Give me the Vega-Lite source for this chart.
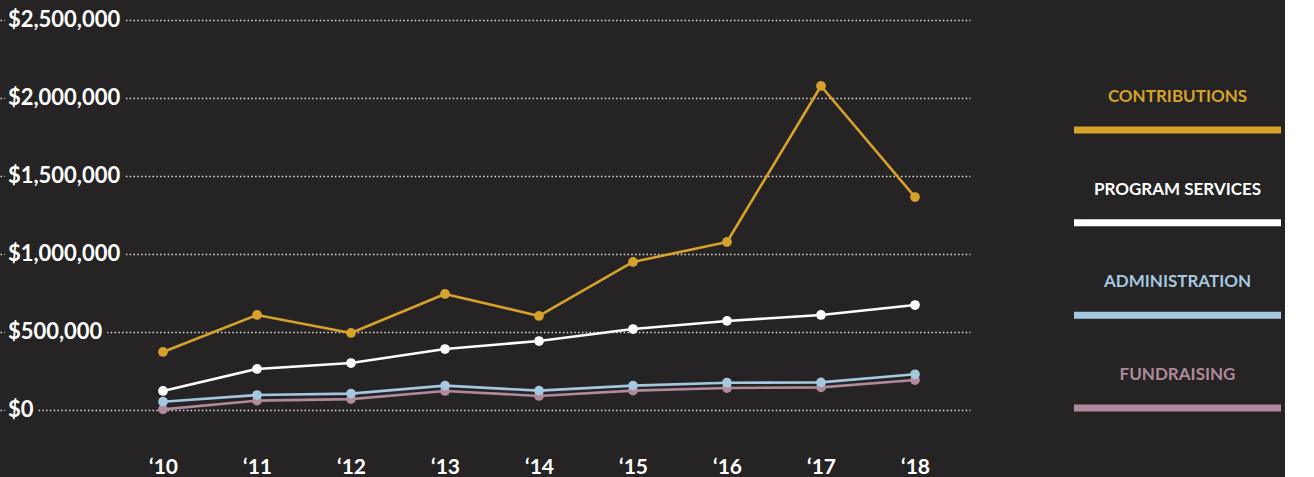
{
  "$schema": "https://vega.github.io/schema/vega-lite/v6.json",
  "background": "#252323",
  "padding": {"left": 0, "top": 9, "right": 0, "bottom": 0},
  "config": {"view": {"stroke": null}, "font": "Lato"},
  "datasets": {
    "series": [
      {"year": 2010, "series": "Fundraising", "value": 4000},
      {"year": 2011, "series": "Fundraising", "value": 60000},
      {"year": 2012, "series": "Fundraising", "value": 70000},
      {"year": 2013, "series": "Fundraising", "value": 122000},
      {"year": 2014, "series": "Fundraising", "value": 90000},
      {"year": 2015, "series": "Fundraising", "value": 124000},
      {"year": 2016, "series": "Fundraising", "value": 141000},
      {"year": 2017, "series": "Fundraising", "value": 145000},
      {"year": 2018, "series": "Fundraising", "value": 192000},
      {"year": 2010, "series": "Administration", "value": 53000},
      {"year": 2011, "series": "Administration", "value": 96000},
      {"year": 2012, "series": "Administration", "value": 105000},
      {"year": 2013, "series": "Administration", "value": 156000},
      {"year": 2014, "series": "Administration", "value": 124000},
      {"year": 2015, "series": "Administration", "value": 156000},
      {"year": 2016, "series": "Administration", "value": 175000},
      {"year": 2017, "series": "Administration", "value": 177000},
      {"year": 2018, "series": "Administration", "value": 229000},
      {"year": 2010, "series": "Program Services", "value": 122000},
      {"year": 2011, "series": "Program Services", "value": 263000},
      {"year": 2012, "series": "Program Services", "value": 301000},
      {"year": 2013, "series": "Program Services", "value": 391000},
      {"year": 2014, "series": "Program Services", "value": 442000},
      {"year": 2015, "series": "Program Services", "value": 519000},
      {"year": 2016, "series": "Program Services", "value": 571000},
      {"year": 2017, "series": "Program Services", "value": 609000},
      {"year": 2018, "series": "Program Services", "value": 673000},
      {"year": 2010, "series": "Contributions", "value": 372000},
      {"year": 2011, "series": "Contributions", "value": 609000},
      {"year": 2012, "series": "Contributions", "value": 494000},
      {"year": 2013, "series": "Contributions", "value": 744000},
      {"year": 2014, "series": "Contributions", "value": 603000},
      {"year": 2015, "series": "Contributions", "value": 949000},
      {"year": 2016, "series": "Contributions", "value": 1077000},
      {"year": 2017, "series": "Contributions", "value": 2077000},
      {"year": 2018, "series": "Contributions", "value": 1365000}
    ],
    "ticks": [
      {"v": 0, "label": "$0"},
      {"v": 500000, "label": "$500,000"},
      {"v": 1000000, "label": "$1,000,000"},
      {"v": 1500000, "label": "$1,500,000"},
      {"v": 2000000, "label": "$2,000,000"},
      {"v": 2500000, "label": "$2,500,000"}
    ],
    "legend": [
      {"series": "Contributions", "label": "CONTRIBUTIONS"},
      {"series": "Program Services", "label": "PROGRAM SERVICES"},
      {"series": "Administration", "label": "ADMINISTRATION"},
      {"series": "Fundraising", "label": "FUNDRAISING"}
    ]
  },
  "hconcat": [
    {
      "width": 970,
      "height": 390,
      "layer": [
        {
          "data": {"name": "series"},
          "mark": {"type": "line", "strokeCap": "round", "strokeJoin": "round"},
          "encoding": {
            "x": {
              "field": "year", "type": "quantitative",
              "scale": {"domain": [2008.266, 2018.585], "nice": false, "zero": false},
              "axis": {
                "values": [2010, 2011, 2012, 2013, 2014, 2015, 2016, 2017, 2018],
                "format": "d",
                "labelExpr": "'‘' + slice(datum.label, 2)",
                "title": null, "grid": false, "domain": false, "ticks": false,
                "labelPadding": 46, "labelBaseline": "top",
                "labelFontSize": 21, "labelFontWeight": "bold", "labelColor": "#ffffff"
              }
            },
            "y": {
              "field": "value", "type": "quantitative",
              "scale": {"domain": [0, 2500000], "nice": false},
              "axis": {
                "values": [0, 500000, 1000000, 1500000, 2000000, 2500000],
                "labels": false, "ticks": false, "domain": false, "title": null,
                "grid": true, "gridColor": "#ffffff", "gridOpacity": 0.85,
                "gridDash": [1.5, 2.3], "gridWidth": 1.5
              }
            },
            "color": {
              "field": "series", "type": "nominal", "legend": null,
              "scale": {
                "domain": ["Contributions", "Program Services", "Administration", "Fundraising"],
                "range": ["#D6A22C", "#FFFFFF", "#A4C8DF", "#B0899A"]
              }
            },
            "strokeWidth": {
              "field": "series", "type": "nominal", "legend": null,
              "scale": {
                "domain": ["Contributions", "Program Services", "Administration", "Fundraising"],
                "range": [2.6, 2.6, 3.6, 3.6]
              }
            }
          }
        },
        {
          "data": {"name": "series"},
          "mark": {"type": "point", "filled": true, "opacity": 1, "size": 95},
          "encoding": {
            "x": {"field": "year", "type": "quantitative"},
            "y": {"field": "value", "type": "quantitative"},
            "color": {"field": "series", "type": "nominal", "legend": null}
          }
        },
        {
          "data": {"name": "ticks"},
          "mark": {"type": "text", "align": "left", "baseline": "middle", "fontSize": 22, "fontWeight": "bold", "fill": "#252323", "stroke": "#252323", "strokeWidth": 11},
          "encoding": {
            "x": {"datum": 2008.35, "type": "quantitative"},
            "y": {"field": "v", "type": "quantitative"},
            "text": {"field": "label"}
          }
        },
        {
          "data": {"name": "ticks"},
          "mark": {"type": "text", "align": "left", "baseline": "middle", "fontSize": 22, "fontWeight": "bold", "fill": "#ffffff"},
          "encoding": {
            "x": {"datum": 2008.35, "type": "quantitative"},
            "y": {"field": "v", "type": "quantitative"},
            "text": {"field": "label"}
          }
        }
      ]
    },
    {
      "width": 207,
      "height": 390,
      "data": {"name": "legend"},
      "layer": [
        {
          "mark": {"type": "rule", "strokeWidth": 7},
          "encoding": {
            "y": {"field": "series", "type": "nominal", "axis": null,
              "scale": {"type": "point", "padding": 0, "domain": ["Contributions", "Program Services", "Administration", "Fundraising"], "range": [110, 388]}},
            "color": {"field": "series", "type": "nominal", "legend": null,
              "scale": {
                "domain": ["Contributions", "Program Services", "Administration", "Fundraising"],
                "range": ["#D6A22C", "#FFFFFF", "#A4C8DF", "#B0899A"]
              }}
          }
        },
        {
          "mark": {"type": "text", "dy": -33, "fontSize": 17, "fontWeight": "bold", "baseline": "middle", "align": "center"},
          "encoding": {
            "y": {"field": "series", "type": "nominal", "axis": null},
            "text": {"field": "label"},
            "color": {"field": "series", "type": "nominal", "legend": null}
          }
        }
      ]
    }
  ],
  "spacing": 100
}
